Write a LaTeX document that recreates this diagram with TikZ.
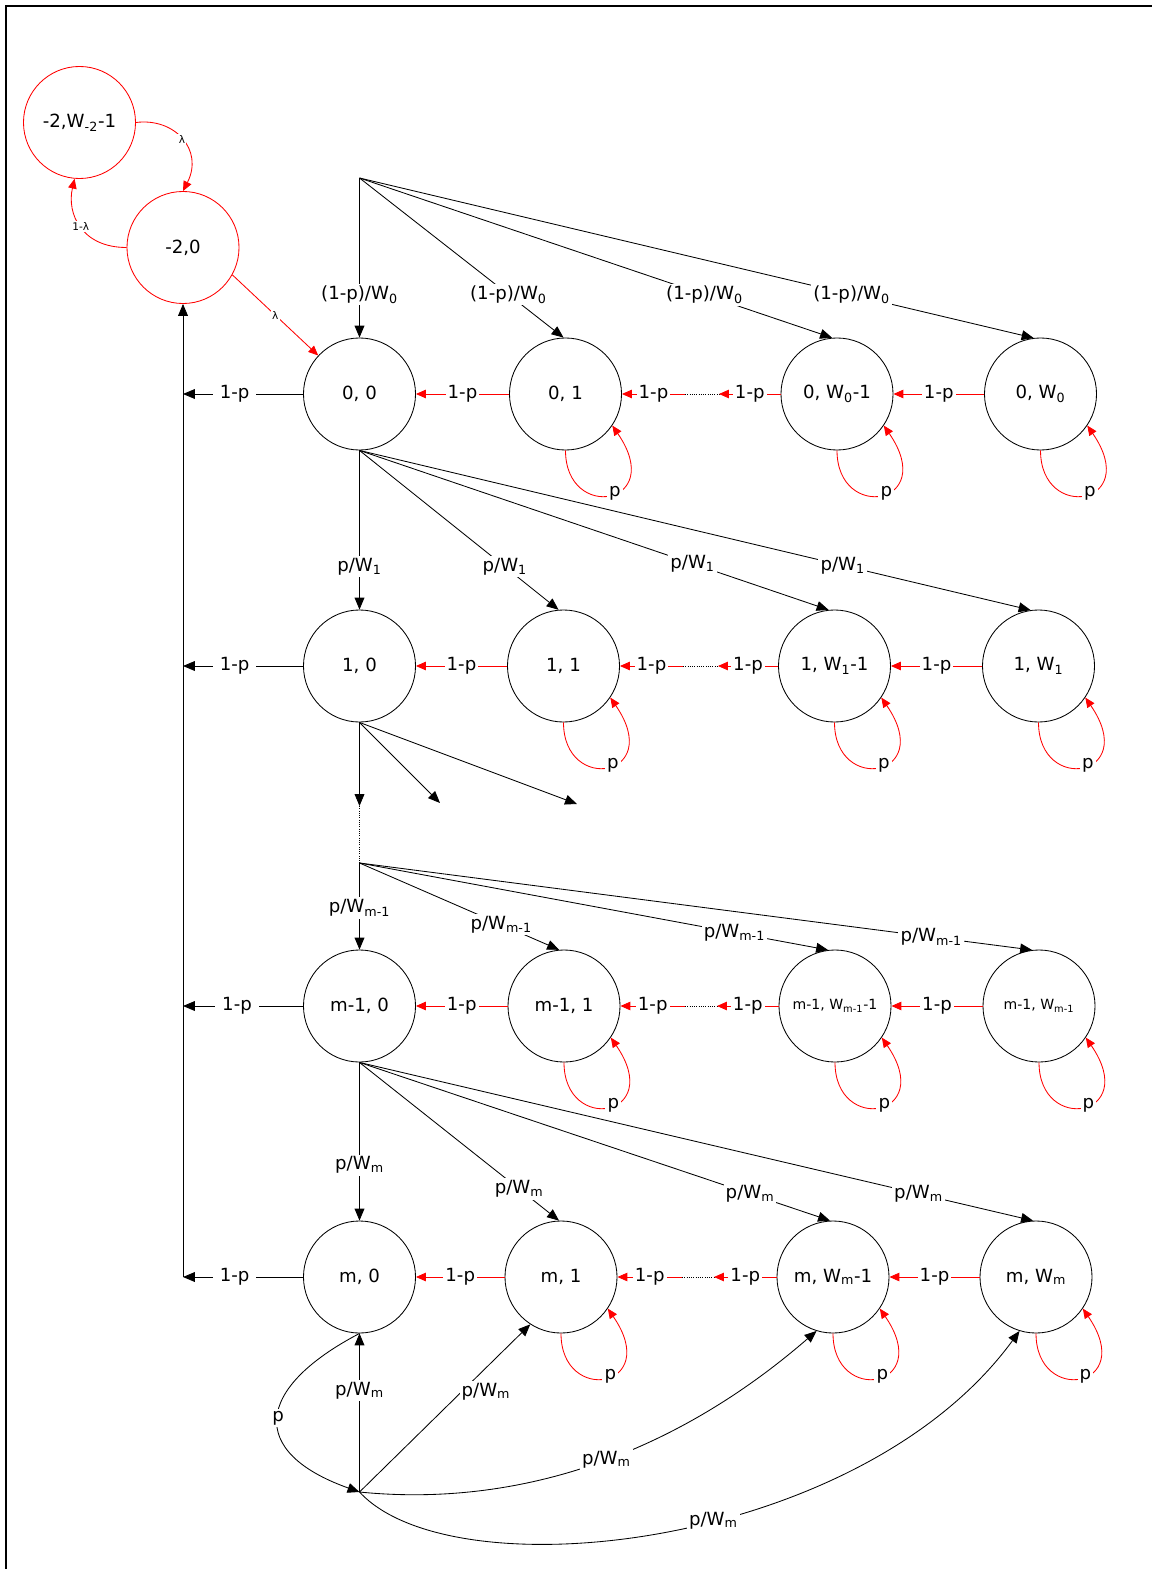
\documentclass[tikz,border=0pt]{standalone}
\usepackage{fontspec}
\setmainfont{DejaVu Sans}
\usetikzlibrary{arrows.meta}

\begin{document}
\begin{tikzpicture}[x=0.025cm, y=-0.025cm,
    state/.style={circle, draw, line width=0.6pt, minimum size=2.8cm, inner sep=0pt,
      font=\fontsize{12.9}{15}\selectfont},
    rstate/.style={state, draw=red},
    arr/.style={line width=0.6pt, -{Triangle[length=8.5pt,width=7pt]}},
    redarr/.style={red, line width=0.6pt, -{Triangle[length=7pt,width=6pt]}},
    lbl/.style={fill=white, text=black, inner sep=1.5pt, font=\fontsize{12.9}{15}\selectfont},
    sidelbl/.style={lbl, inner xsep=5pt},
    smalllbl/.style={fill=white, text=black, inner sep=1pt, font=\fontsize{7.5}{9}\selectfont}]

    \useasboundingbox (0,0) rectangle (1152,1569);
    \draw[line width=1.65pt] (5.8,1569) -- (5.8,6.2) -- (1152,6.2);

    \node[rstate] (m2w) at (79.5,122.5) {-2,W\textsubscript{-2}-1};
    \node[rstate] (m20) at (183,247.5) {-2,0};

    \node[state] (r0c0) at (359.5,394) {0, 0};
    \node[state] (r0c1) at (565.5,394) {0, 1};
    \node[state] (r0c2) at (837,394) {0, W\textsubscript{0}-1};
    \node[state] (r0c3) at (1040.5,394) {0, W\textsubscript{0}};

    \node[state] (r1c0) at (359.5,666) {1, 0};
    \node[state] (r1c1) at (563.5,666) {1, 1};
    \node[state] (r1c2) at (834.5,666) {1, W\textsubscript{1}-1};
    \node[state] (r1c3) at (1038.5,666) {1, W\textsubscript{1}};

    \node[state] (rkc0) at (359.5,1006) {m-1, 0};
    \node[state] (rkc1) at (564,1006) {m-1, 1};
    \node[state, font=\fontsize{10}{12}\selectfont] (rkc2) at (835,1006) {m-1, W\textsubscript{m-1}-1};
    \node[state, font=\fontsize{10}{12}\selectfont] (rkc3) at (1039,1006) {m-1, W\textsubscript{m-1}};

    \node[state] (rmc0) at (359.5,1277) {m, 0};
    \node[state] (rmc1) at (561,1277) {m, 1};
    \node[state] (rmc2) at (833,1277) {m, W\textsubscript{m}-1};
    \node[state] (rmc3) at (1036,1277) {m, W\textsubscript{m}};

    \coordinate (top) at (359.5,178);
    \coordinate (s1) at (359.5,806);
    \coordinate (s2) at (440,803);
    \coordinate (s3) at (577,804);
    \coordinate (fk) at (359.5,863);
    \coordinate (bot) at (359.5,1492);
    \coordinate (r0l) at (183,394);
    \coordinate (r1l) at (183,666);
    \coordinate (rkl) at (183,1006);
    \coordinate (rml) at (183,1277);
    \coordinate (r0d1) at (685,394);  \coordinate (r0d2) at (719,394);
    \coordinate (r1d1) at (683,666);  \coordinate (r1d2) at (718,666);
    \coordinate (rkd1) at (685,1006); \coordinate (rkd2) at (717,1006);
    \coordinate (rmd1) at (682,1277); \coordinate (rmd2) at (714,1277);

    % retry states
    \draw[redarr] (m2w.east) .. controls +(39,-5) and +(21,-41) .. (m20.north) node[smalllbl,pos=0.5] {λ};
    \draw[redarr] (m20.west) .. controls +(-45,0) and +(-8,35) .. (m2w.-95) node[smalllbl,pos=0.5] {1-λ};
    \draw[redarr] (m20.-29) -- (r0c0.137) node[smalllbl,midway] {λ};
    \draw[arr] (rml) -- (m20.south);

    % stage 0
    \draw[arr] (top) -- (r0c0.north) node[lbl,pos=0.73] {(1-p)/W\textsubscript{0}};
    \draw[arr] (top) -- (r0c1.92) node[lbl,pos=0.73] {(1-p)/W\textsubscript{0}};
    \draw[arr] (top) -- (r0c2.95) node[lbl,pos=0.73] {(1-p)/W\textsubscript{0}};
    \draw[arr] (top) -- (r0c3.97) node[lbl,pos=0.73] {(1-p)/W\textsubscript{0}};
    \draw[arr] (r0c0.west) -- (r0l) node[sidelbl,pos=0.57] {1-p};
    \draw[redarr] (r0c1.west) -- (r0c0.east) node[lbl,midway] {1-p};
    \draw[redarr] (r0d1) -- (r0c1.east) node[lbl,midway] {1-p};
    \draw[densely dotted, line width=0.6pt] (r0d1) -- (r0d2);
    \draw[redarr] (r0c2.west) -- (r0d2) node[lbl,midway] {1-p};
    \draw[redarr] (r0c3.west) -- (r0c2.east) node[lbl,midway] {1-p};
    \draw[redarr] (r0c1.south) .. controls +(0,72) and +(55,80) .. (r0c1.-34) node[lbl,pos=0.55] {p};
    \draw[redarr] (r0c2.south) .. controls +(0,72) and +(55,80) .. (r0c2.-34) node[lbl,pos=0.55] {p};
    \draw[redarr] (r0c3.south) .. controls +(0,72) and +(55,80) .. (r0c3.-34) node[lbl,pos=0.55] {p};

    % stage 1
    \draw[arr] (r0c0.south) -- (r1c0.north) node[lbl,pos=0.73] {p/W\textsubscript{1}};
    \draw[arr] (r0c0.south) -- (r1c1.95) node[lbl,pos=0.73] {p/W\textsubscript{1}};
    \draw[arr] (r0c0.south) -- (r1c2.96) node[lbl,pos=0.71] {p/W\textsubscript{1}};
    \draw[arr] (r0c0.south) -- (r1c3.98) node[lbl,pos=0.72] {p/W\textsubscript{1}};
    \draw[arr] (r1c0.west) -- (r1l) node[sidelbl,pos=0.57] {1-p};
    \draw[redarr] (r1c1.west) -- (r1c0.east) node[lbl,midway] {1-p};
    \draw[redarr] (r1d1) -- (r1c1.east) node[lbl,midway] {1-p};
    \draw[densely dotted, line width=0.6pt] (r1d1) -- (r1d2);
    \draw[redarr] (r1c2.west) -- (r1d2) node[lbl,midway] {1-p};
    \draw[redarr] (r1c3.west) -- (r1c2.east) node[lbl,midway] {1-p};
    \draw[redarr] (r1c1.south) .. controls +(0,72) and +(55,80) .. (r1c1.-34) node[lbl,pos=0.55] {p};
    \draw[redarr] (r1c2.south) .. controls +(0,72) and +(55,80) .. (r1c2.-34) node[lbl,pos=0.55] {p};
    \draw[redarr] (r1c3.south) .. controls +(0,72) and +(55,80) .. (r1c3.-34) node[lbl,pos=0.55] {p};
    \draw[arr] (r1c0.south) -- (s1);
    \draw[arr] (r1c0.south) -- (s2);
    \draw[arr] (r1c0.south) -- (s3);
    \draw[densely dotted, line width=0.6pt] (s1) -- (fk);

    % stage m-1
    \draw[arr] (fk) -- (rkc0.north) node[lbl,pos=0.52] {p/W\textsubscript{m-1}};
    \draw[arr] (fk) -- (rkc1.95) node[lbl,pos=0.71] {p/W\textsubscript{m-1}};
    \draw[arr] (fk) -- (rkc2.97) node[lbl,pos=0.8] {p/W\textsubscript{m-1}};
    \draw[arr] (fk) -- (rkc3.97) node[lbl,pos=0.85] {p/W\textsubscript{m-1}};
    \draw[arr] (rkc0.west) -- (rkl) node[sidelbl,pos=0.55] {1-p};
    \draw[redarr] (rkc1.west) -- (rkc0.east) node[lbl,midway] {1-p};
    \draw[redarr] (rkd1) -- (rkc1.east) node[lbl,midway] {1-p};
    \draw[densely dotted, line width=0.6pt] (rkd1) -- (rkd2);
    \draw[redarr] (rkc2.west) -- (rkd2) node[lbl,midway] {1-p};
    \draw[redarr] (rkc3.west) -- (rkc2.east) node[lbl,midway] {1-p};
    \draw[redarr] (rkc1.south) .. controls +(0,72) and +(55,80) .. (rkc1.-34) node[lbl,pos=0.55] {p};
    \draw[redarr] (rkc2.south) .. controls +(0,72) and +(55,80) .. (rkc2.-34) node[lbl,pos=0.55] {p};
    \draw[redarr] (rkc3.south) .. controls +(0,72) and +(55,80) .. (rkc3.-34) node[lbl,pos=0.55] {p};

    % stage m
    \draw[arr] (rkc0.south) -- (rmc0.north) node[lbl,pos=0.65] {p/W\textsubscript{m}};
    \draw[arr] (rkc0.south) -- (rmc1.92) node[lbl,pos=0.8] {p/W\textsubscript{m}};
    \draw[arr] (rkc0.south) -- (rmc2.93) node[lbl,pos=0.83] {p/W\textsubscript{m}};
    \draw[arr] (rkc0.south) -- (rmc3.93) node[lbl,pos=0.83] {p/W\textsubscript{m}};
    \draw[arr] (rmc0.west) -- (rml) node[sidelbl,pos=0.57] {1-p};
    \draw[redarr] (rmc1.west) -- (rmc0.east) node[lbl,midway] {1-p};
    \draw[redarr] (rmd1) -- (rmc1.east) node[lbl,midway] {1-p};
    \draw[densely dotted, line width=0.6pt] (rmd1) -- (rmd2);
    \draw[redarr] (rmc2.west) -- (rmd2) node[lbl,midway] {1-p};
    \draw[redarr] (rmc3.west) -- (rmc2.east) node[lbl,midway] {1-p};
    \draw[redarr] (rmc1.south) .. controls +(0,72) and +(55,80) .. (rmc1.-34) node[lbl,pos=0.55] {p};
    \draw[redarr] (rmc2.south) .. controls +(0,72) and +(55,80) .. (rmc2.-34) node[lbl,pos=0.55] {p};
    \draw[redarr] (rmc3.south) .. controls +(0,72) and +(55,80) .. (rmc3.-34) node[lbl,pos=0.55] {p};

    % collision at the last stage
    \draw[arr] (rmc0.south) .. controls +(-105,55) and +(-112,-40) .. (bot) node[lbl,pos=0.5] {p};
    \draw[arr] (bot) -- (rmc0.south) node[lbl,pos=0.64] {p/W\textsubscript{m}};
    \draw[arr] (bot) -- (rmc1.-123) node[lbl,pos=0.6,xshift=0.6cm] {p/W\textsubscript{m}};
    \draw[arr] (bot) .. controls +(150,15) and +(-150,130) .. (rmc2.-107) node[lbl,pos=0.54] {p/W\textsubscript{m}};
    \draw[arr] (bot) .. controls +(94,102) and +(-159,218) .. (rmc3.-107) node[lbl,pos=0.56] {p/W\textsubscript{m}};

\end{tikzpicture}
\end{document}
